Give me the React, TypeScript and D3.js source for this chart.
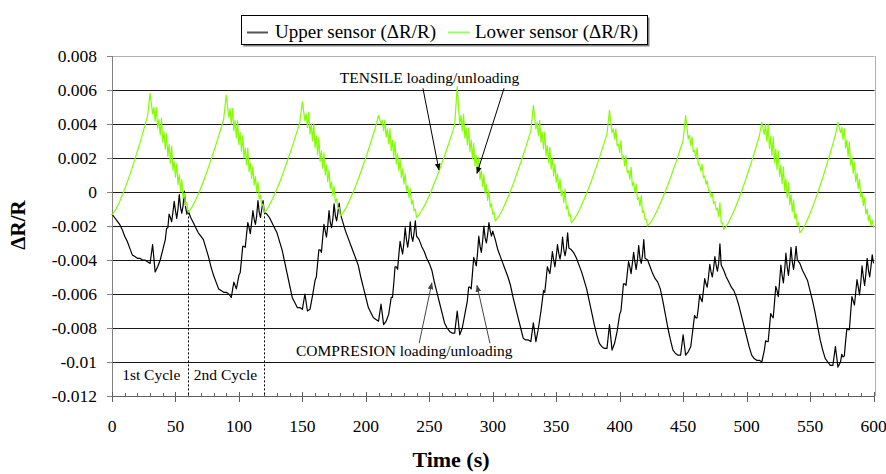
import * as d3 from "d3";

// ΔR/R in units of 1e-4, one sample every 2 s from 0 s to 600 s
const SAMPLE_STEP = 2;

const upperSensor = [
  -13, -15, -17, -19, -22, -26, -29, -33, -37, -38, -39, -39, -40, -40, -41, -42, -31, -47, -44, -40, -34, -28, -21, -15, -12, -11, -10, -9, -8, -9,
  -11, -15, -18, -21, -24, -26, -28, -33, -38, -44, -49, -53, -57, -58, -59, -59, -60, -62, -53, -57, -49, -40, -32, -25, -21, -18, -16, -14, -12, -10,
  -12, -13, -15, -18, -21, -24, -29, -34, -41, -48, -55, -62, -65, -68, -68, -69, -60, -70, -69, -61, -52, -42, -34, -27, -23, -20, -18, -16, -14, -12,
  -13, -18, -23, -27, -31, -35, -39, -43, -50, -56, -62, -68, -71, -74, -75, -76, -66, -78, -76, -72, -62, -54, -44, -37, -33, -30, -28, -27, -26, -24,
  -26, -28, -32, -35, -39, -42, -46, -53, -59, -65, -71, -77, -80, -82, -83, -83, -70, -84, -80, -72, -64, -56, -48, -41, -36, -32, -29, -27, -25, -23,
  -23, -28, -34, -38, -42, -46, -50, -55, -62, -68, -74, -80, -86, -87, -87, -88, -77, -88, -80, -70, -58, -52, -46, -42, -40, -38, -36, -35, -34, -33,
  -33, -34, -36, -39, -43, -47, -52, -57, -64, -71, -78, -84, -89, -91, -92, -92, -78, -93, -89, -82, -72, -62, -54, -48, -44, -42, -41, -40, -39, -37,
  -39, -40, -44, -48, -51, -53, -57, -64, -72, -80, -87, -93, -95, -96, -96, -84, -96, -94, -91, -79, -74, -68, -63, -58, -54, -50, -47, -45, -43, -42,
  -43, -46, -50, -53, -56, -58, -62, -67, -73, -79, -85, -91, -96, -98, -99, -99, -100, -93, -88, -80, -73, -65, -58, -53, -49, -46, -44, -42, -41, -40,
  -40, -42, -46, -49, -52, -58, -64, -71, -79, -87, -93, -98, -100, -102, -102, -91, -103, -100, -97, -88, -81, -71, -64, -59, -56, -53, -50, -48, -46, -44,
  -42,
];

const lowerSensor = [
  -13.5, -11.6, -8.9, -5.7, -2.1, 1.7, 5.8, 10.1, 14.5, 19.2, 24, 28.9, 34, 39.2, 44.5, 58,
  45.9, 41.7, 37.6, 33.5, 29.3, 25.2, 21.1, 16.9, 12.8, 8.7, 4.5, 0.4, -3.7, -7.9,
  -12, -10.2, -7.6, -4.6, -1.2, 2.4, 6.2, 10.3, 14.5, 18.9, 23.4, 28.1, 32.9, 37.8, 42.8, 57,
  44, 40, 36, 32, 28, 24, 20, 16, 12, 8, 4, 0, -4, -8,
  -12, -10.3, -7.8, -4.9, -1.6, 1.9, 5.6, 9.5, 13.6, 17.9, 22.2, 26.7, 31.4, 36.1, 41, 53,
  42, 38, 34, 30, 26, 22, 18, 14, 10, 6, 2, -2, -6, -10,
  -14, -12.3, -9.8, -6.9, -3.6, -0.1, 3.6, 7.5, 11.6, 15.9, 20.2, 24.7, 29.4, 34.1, 39, 45,
  40.1, 36.1, 32.2, 28.3, 24.3, 20.4, 16.5, 12.5, 8.6, 4.7, 0.7, -3.2, -7.1, -11.1,
  -15, -13.4, -11, -8.3, -5.3, -2, 1.5, 5.1, 9, 12.9, 17, 21.2, 25.6, 30, 34.6, 39.3, 62,
  39.9, 35.9, 31.8, 27.7, 23.7, 19.6, 15.5, 11.4, 7.4, 3.3, -0.8, -4.9, -8.9, -13,
  -17, -15.3, -12.8, -9.9, -6.6, -3.1, 0.6, 4.5, 8.6, 12.9, 17.2, 21.7, 26.4, 31.1, 36, 51,
  37.1, 33.1, 29.2, 25.3, 21.3, 17.4, 13.5, 9.5, 5.6, 1.7, -2.3, -6.2, -10.1, -14.1,
  -18, -16.3, -13.8, -11, -7.7, -4.3, -0.7, 3.1, 7.1, 11.4, 15.6, 20.1, 24.6, 29.3, 34.1, 48,
  35.1, 31.1, 27.2, 23.3, 19.3, 15.4, 11.5, 7.5, 3.6, -0.3, -4.3, -8.2, -12.1, -16.1,
  -20, -18.4, -16, -13.2, -10.1, -6.8, -3.3, 0.4, 4.3, 8.3, 12.5, 16.7, 21.1, 25.7, 30.3, 45,
  31.2, 27.4, 23.6, 19.8, 16, 12.2, 8.4, 4.6, 0.8, -3, -6.8, -10.6, -14.4, -18.2,
  -22, -20.2, -17.6, -14.6, -11.2, -7.6, -3.8, 0.3, 4.5, 8.9, 13.4, 18.1, 22.9, 27.8, 32.8, 41,
  33.9, 29.7, 25.6, 21.5, 17.3, 13.2, 9.1, 4.9, 0.8, -3.3, -7.5, -11.6, -15.7, -19.9,
  -24, -22.1, -19.4, -16.3, -12.7, -8.9, -4.8, -0.6, 3.8, 8.4, 13.2, 18.1, 23.1, 28.3, 33.6, 41,
  35, 31, 26, 21, 16, 11, 6, 2, -3, -8, -13, -17, -20, -21,
];

// high-frequency noise excursions (1e-4) seen inside each 2 s sample, where the trace is noisy
const upperNoise = [
  { start: 40, values: [0, 3, 5, -4, 6, -5, 8, -4, 9, -3] },
  { start: 100, values: [-3, 4, -4, 5, -5, 6, -4, 8, -4, 6] },
  { start: 160, values: [-3, 4, -5, 6, -5, 8, -4, 8, -4, 6] },
  { start: 220, values: [-4, 5, -5, 6, -5, 8, -5, 9, -4, 8] },
  { start: 280, values: [4, -5, 6, -5, 8, -5, 8, -4, 6, -3] },
  { start: 340, values: [-4, 5, -4, 6, -5, 6, -4, 8, -4, 9] },
  { start: 400, values: [-3, 4, -4, 5, -5, 6, -5, 8, -4, 10] },
  { start: 456, values: [0, 4, -3, 5, -4, 5, -4, 6, -4, 6, -4, 12] },
  { start: 514, values: [3, -4, 5, -5, 6, -6, 8, -6, 9, -6, 9, -5, 8] },
  { start: 574, values: [3, -4, 4, -5, 6, -5, 6, -6, 8, -6, 8, -5, 6] },
];

const lowerNoise = [
  { start: 32, values: [6, 10, 7, 12, 8, 11, 9, 12, 7, 10, 8, 9, 5, 4] },
  { start: 92, values: [7, 11, 8, 12, 9, 11, 8, 12, 7, 9, 7, 8, 4, 3] },
  { start: 152, values: [6, 11, 8, 12, 9, 12, 8, 11, 8, 9, 6, 7, 4, 3] },
  { start: 212, values: [4, 8, 7, 11, 8, 11, 8, 9, 7, 8, 5, 7, 4, 3] },
  { start: 274, values: [7, 12, 8, 12, 9, 11, 8, 11, 7, 9, 7, 8, 4, 3] },
  { start: 334, values: [6, 11, 8, 12, 8, 11, 8, 9, 7, 8, 5, 10, 4, 3] },
  { start: 394, values: [4, 8, 3, 9, 4, 8, 3, 9, 4, 7, 3, 8, 3, 2] },
  { start: 454, values: [4, 7, 3, 8, 2, 6, 3, 4, 2, 4, 3, 3, 10, 2] },
  { start: 514, values: [8, 12, 9, 13, 10, 13, 9, 12, 9, 11, 8, 9, 5, 4] },
  { start: 574, values: [5, 9, 7, 11, 7, 9, 7, 8, 5, 7, 5, 5, 4] },
];

const seriesNames = ["Upper sensor (ΔR/R)", "Lower sensor (ΔR/R)"];
const seriesColors = ["#000000", "#80ff00"];
const legendSwatchColors = ["#555555", "#99ff66"];

const xTicks = [0, 50, 100, 150, 200, 250, 300, 350, 400, 450, 500, 550, 600];
const xMinorStep = 10;
const yTicks = [0.008, 0.006, 0.004, 0.002, 0, -0.002, -0.004, -0.006, -0.008, -0.01, -0.012];

// cycle boundaries (time, value where the dashed line starts)
const cycleLines = [
  { t: 60, v: -0.0012 },
  { t: 120, v: -0.0012 },
];
const cycleLabels = [
  { t: 8, text: "1st Cycle" },
  { t: 64.5, text: "2nd Cycle" },
];

const tensileNote = {
  text: "TENSILE loading/unloading",
  t: 179.5,
  v: 0.0064,
  arrows: [
    { from: [245, 0.0061], to: [257.6, 0.0013] },
    { from: [308.9, 0.0061], to: [287.6, 0.0011] },
  ],
};
const compressionNote = {
  text: "COMPRESION loading/unloading",
  t: 145,
  v: -0.00965,
  arrows: [
    { from: [242, -0.0089], to: [252, -0.00535] },
    { from: [297.8, -0.0089], to: [287.6, -0.0055] },
  ],
};

const W = 886;
const H = 474;
const FONT = "'Liberation Serif', 'Times New Roman', Times, serif";

// trace points: each 2 s sample, plus the noise excursion inside the sample where there is one
function tracePoints(values: number[], noise: { start: number; values: number[] }[]) {
  const excursion = new Map<number, number>();
  noise.forEach((seg) => seg.values.forEach((n, k) => excursion.set(seg.start + k * SAMPLE_STEP, n)));
  const pts: [number, number][] = [];
  values.forEach((v, i) => {
    const t = i * SAMPLE_STEP;
    pts.push([t, v / 10000]);
    const n = excursion.get(t);
    if (n && i < values.length - 1) {
      const mid = (v + values[i + 1]) / 2;
      pts.push([t + SAMPLE_STEP / 2, (mid + n) / 10000]);
    }
  });
  return pts;
}

export default function App() {
  const x = d3.scaleLinear().domain([0, 600]).range([112, 873.5]);
  const y = d3.scaleLinear().domain([-0.012, 0.008]).range([396, 56]);

  const line = d3
    .line<[number, number]>()
    .x((d) => x(d[0]))
    .y((d) => y(d[1]));

  const upperPath = line(tracePoints(upperSensor, upperNoise)) || "";
  const lowerPath = line(tracePoints(lowerSensor, lowerNoise)) || "";

  const minorTicks = d3.range(0, 601, xMinorStep).filter((t) => t % 50 !== 0);
  const left = x(0);
  const right = x(600) + 1;
  const top = y(0.008);
  const bottom = y(-0.012);
  const crisp = (v: number) => Math.round(v) + 0.5;

  return (
    <svg
      width={W}
      height={H}
      style={{ position: "absolute", left: 0, top: 0, background: "#fff" }}
      fontFamily={FONT}
    >
      <defs>
        <marker id="arrowBlack" viewBox="0 0 10 10" refX="9" refY="5" markerWidth="7" markerHeight="7" orient="auto">
          <path d="M0,1 L10,5 L0,9 z" fill="#000" />
        </marker>
        <marker id="arrowGray" viewBox="0 0 10 10" refX="9" refY="5" markerWidth="7" markerHeight="7" orient="auto">
          <path d="M0,1 L10,5 L0,9 z" fill="#444" />
        </marker>
      </defs>

      {/* plot frame */}
      <line x1={left} x2={right} y1={crisp(top)} y2={crisp(top)} stroke="#b0b0b0" />
      <line x1={crisp(right)} x2={crisp(right)} y1={top} y2={bottom} stroke="#b0b0b0" />

      {/* horizontal gridlines */}
      {yTicks.slice(1, -1).map((v) => (
        <line key={v} x1={left} x2={right} y1={crisp(y(v))} y2={crisp(y(v))} stroke="#1a1a1a" />
      ))}

      {/* y axis */}
      <line x1={crisp(left)} x2={crisp(left)} y1={top} y2={bottom} stroke="#808080" />
      {yTicks.map((v) => (
        <g key={v}>
          <line x1={left - 5} x2={left} y1={crisp(y(v))} y2={crisp(y(v))} stroke="#808080" />
          <text x={97} y={y(v) + 6} textAnchor="end" fontSize={17.5} fill="#000">
            {String(v)}
          </text>
        </g>
      ))}

      {/* x axis */}
      <line x1={left} x2={right} y1={crisp(bottom)} y2={crisp(bottom)} stroke="#606060" />
      {minorTicks.map((t) => (
        <line key={t} x1={crisp(x(t))} x2={crisp(x(t))} y1={bottom - 3} y2={bottom} stroke="#606060" />
      ))}
      {xTicks.map((t) => (
        <g key={t}>
          <line x1={crisp(x(t))} x2={crisp(x(t))} y1={bottom - 4} y2={bottom + 6} stroke="#606060" />
          <text x={x(t)} y={432} textAnchor="middle" fontSize={17.5} fill="#000">
            {t}
          </text>
        </g>
      ))}

      {/* cycle separators */}
      {cycleLines.map((c) => (
        <line
          key={c.t}
          x1={crisp(x(c.t))}
          x2={crisp(x(c.t))}
          y1={y(c.v)}
          y2={bottom}
          stroke="#000"
          strokeDasharray="2,2"
        />
      ))}
      {cycleLabels.map((c) => (
        <text key={c.text} x={x(c.t)} y={380} fontSize={15.5}>
          {c.text}
        </text>
      ))}

      {/* series */}
      <path d={upperPath} fill="none" stroke={seriesColors[0]} strokeWidth={1.2} strokeLinejoin="round" />
      <path d={lowerPath} fill="none" stroke={seriesColors[1]} strokeWidth={1.2} strokeLinejoin="round" />

      {/* annotations */}
      <text x={x(tensileNote.t)} y={y(tensileNote.v)} fontSize={15.5}>
        {tensileNote.text}
      </text>
      {tensileNote.arrows.map((a, i) => (
        <line
          key={i}
          x1={x(a.from[0])}
          y1={y(a.from[1])}
          x2={x(a.to[0])}
          y2={y(a.to[1])}
          stroke="#000"
          strokeWidth={1}
          markerEnd="url(#arrowBlack)"
        />
      ))}
      <text x={x(compressionNote.t)} y={y(compressionNote.v)} fontSize={15.5}>
        {compressionNote.text}
      </text>
      {compressionNote.arrows.map((a, i) => (
        <line
          key={i}
          x1={x(a.from[0])}
          y1={y(a.from[1])}
          x2={x(a.to[0])}
          y2={y(a.to[1])}
          stroke="#444"
          strokeWidth={1}
          markerEnd="url(#arrowGray)"
        />
      ))}

      {/* axis titles */}
      <text x={451} y={467} textAnchor="middle" fontSize={22} fontWeight="bold">
        Time (s)
      </text>
      <text transform="translate(25,225) rotate(-90)" textAnchor="middle" fontSize={21} fontWeight="bold">
        ΔR/R
      </text>

      {/* legend */}
      <rect x={243.5} y={17.5} width={406} height={29} fill="#808080" />
      <rect x={241.5} y={15.5} width={406} height={29} fill="#fff" stroke="#000" />
      <line x1={247} x2={268} y1={32.5} y2={32.5} stroke={legendSwatchColors[0]} strokeWidth={2} />
      <text x={275} y={38} fontSize={19}>
        {seriesNames[0]}
      </text>
      <line x1={448} x2={470} y1={32.5} y2={32.5} stroke={legendSwatchColors[1]} strokeWidth={2} />
      <text x={475} y={38} fontSize={19}>
        {seriesNames[1]}
      </text>
    </svg>
  );
}
